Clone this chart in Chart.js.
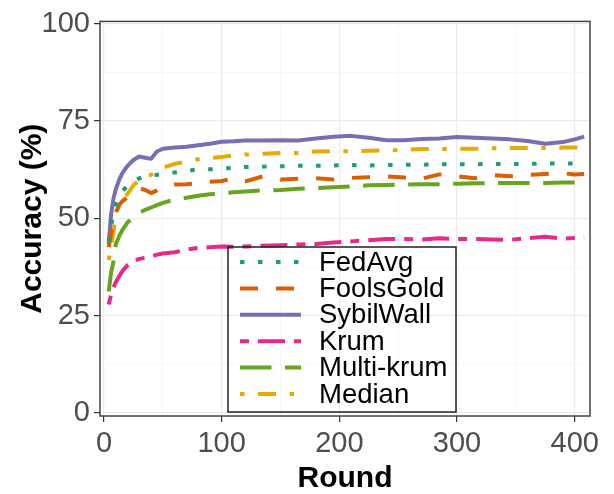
<!DOCTYPE html>
<html>
<head>
<meta charset="utf-8">
<script src="https://cdn.jsdelivr.net/npm/chart.js@4"></script>
<style>
  body { margin: 0; background: #fff; }
  canvas { display: block; }
</style>
</head>
<body>
<canvas id="chart" width="614" height="494"></canvas>
<script>
const rounds = [4, 6, 8, 10, 13, 16, 20, 25, 30, 35, 40, 45, 50, 60, 70, 80, 90, 100, 110, 120,
  135, 150, 165, 180, 195, 210, 225, 240, 255, 270, 285, 300, 315, 330, 345, 360, 375, 390, 400, 408];

const fedAvg = [44, 48, 51.5, 53.6, 55.8, 57.2, 58.3, 59.5, 60.3, 60.7, 61, 61.2, 61.3, 61.8, 62.2, 62.6, 62.6, 62.8, 63, 63.2,
  63.3, 63.4, 63.5, 63.5, 63.6, 63.7, 63.6, 63.7, 63.8, 63.8, 63.9, 63.9, 63.9, 64, 64, 64, 64.1, 64.1, 64.1, 64.2];
const foolsGold = [42.6, 46, 49.5, 51.5, 53.5, 54.5, 55.5, 57, 57.8, 57.3, 56.5, 57.2, 58.2, 58.7, 58.8, 59, 59.4, 59.6, 60.3, 59.5,
  60.8, 60, 60.2, 60.3, 60, 60.4, 60.6, 60.8, 60.5, 60.2, 61.3, 60.8, 60.3, 61.1, 60.8, 61.2, 61.4, 61.6, 61.3, 61.4];
const sybilWall = [43.5, 51, 55, 57.5, 60, 61.8, 63.5, 65, 65.9, 65.6, 65.3, 67.2, 67.9, 68.2, 68.4, 68.8, 69.2, 69.7, 69.8, 70,
  70, 70.1, 70, 70.5, 71, 71.2, 70.7, 70.1, 70.1, 70.4, 70.5, 70.9, 70.7, 70.5, 70.3, 69.9, 69.2, 69.6, 70.3, 71];
const krum = [27.9, 30.4, 32.2, 33.6, 35.2, 36.6, 38, 39.1, 39.6, 39.9, 40.2, 40.7, 41, 41.3, 42, 42.4, 42.6, 42.8, 42.7, 42.8,
  43, 43.1, 43.3, 43.4, 43.8, 44.1, 44.4, 44.7, 44.7, 44.6, 44.9, 44.7, 44.7, 44.6, 44.5, 44.9, 45.3, 44.8, 45, 45.1];
const multiKrum = [31.2, 36, 38.8, 43.4, 45.5, 47.2, 49, 50.2, 51.4, 52.2, 52.8, 53.4, 54, 54.8, 55.3, 55.8, 56.2, 56.5, 56.7, 56.9,
  57.2, 57.3, 57.6, 57.8, 58, 58.2, 58.5, 58.6, 58.7, 58.8, 58.8, 58.9, 59, 59.1, 59.1, 59.1, 59.1, 59.2, 59.2, 59.2];
const median = [39.3, 43, 46.4, 51, 53.5, 55, 56.3, 58.5, 59.8, 60.6, 61.2, 62, 63, 64, 64.6, 65.2, 65.5, 65.8, 66.2, 66.4,
  66.6, 66.8, 66.8, 67.2, 67.3, 67.2, 67.4, 67.5, 67.6, 67.8, 67.8, 67.9, 67.9, 68, 68.1, 68.1, 68.1, 68.2, 68.2, 68.3];

const seriesNames = ['FedAvg', 'FoolsGold', 'SybilWall', 'Krum', 'Multi-krum', 'Median'];
const seriesValues = [fedAvg, foolsGold, sybilWall, krum, multiKrum, median];
const colors = ['#1B9E77', '#D95F02', '#7570B3', '#E7298A', '#66A61E', '#E6AB02'];
const dashes = [[4.5, 13.5], [18, 18], [], [9, 9, 27, 9], [31.5, 13.5], [4.5, 13.5, 18, 13.5]];

const xTicks = [0, 50, 100, 150, 200, 250, 300, 350, 400];
const yTicks = [0, 12.5, 25, 37.5, 50, 62.5, 75, 87.5, 100];

const FONT = "'Liberation Sans', Arial, sans-serif";

const datasets = seriesNames.map((name, i) => ({
  label: name,
  data: rounds.map((r, j) => ({ x: r, y: seriesValues[i][j] })),
  borderColor: colors[i],
  backgroundColor: colors[i],
  borderWidth: 4,
  borderDash: dashes[i],
  borderCapStyle: 'butt',
  borderJoinStyle: 'round',
  pointRadius: 0,
  tension: 0,
  fill: false
}));

// panel border drawn over the data, like ggplot's theme_bw
const panelBorder = {
  id: 'panelBorder',
  afterDatasetsDraw(chart) {
    const { ctx, chartArea: a } = chart;
    ctx.save();
    ctx.strokeStyle = '#444';
    ctx.lineWidth = 1.5;
    ctx.strokeRect(a.left, a.top, a.right - a.left, a.bottom - a.top);
    ctx.restore();
  }
};

// boxed legend inside the panel
const boxLegend = {
  id: 'boxLegend',
  afterDraw(chart) {
    const { ctx } = chart;
    const box = { left: 228, top: 247, right: 456, bottom: 412 };
    ctx.save();
    ctx.strokeStyle = '#222';
    ctx.lineWidth = 1.5;
    ctx.strokeRect(box.left, box.top, box.right - box.left, box.bottom - box.top);
    ctx.font = '27.5px ' + FONT;
    ctx.textBaseline = 'middle';
    ctx.fillStyle = '#000';
    chart.data.datasets.forEach((ds, i) => {
      const y = 262 + i * 26.4;
      ctx.beginPath();
      ctx.setLineDash(ds.borderDash);
      ctx.lineCap = 'butt';
      ctx.strokeStyle = ds.borderColor;
      ctx.lineWidth = ds.borderWidth;
      ctx.moveTo(240, y);
      ctx.lineTo(301, y);
      ctx.stroke();
      ctx.setLineDash([]);
      ctx.fillText(ds.label, 319, y + 1);
    });
    ctx.restore();
  }
};

const gridColor = (major) => (ctx) => (ctx.tick && major(ctx.tick.value) ? '#EBEBEB' : '#F4F4F4');
const gridWidth = (major) => (ctx) => (ctx.tick && major(ctx.tick.value) ? 1.2 : 0.7);
const tickColor = (major) => (ctx) => (ctx.tick && major(ctx.tick.value) ? '#333' : 'rgba(0,0,0,0)');
const xMajor = (v) => v % 100 === 0;
const yMajor = (v) => v % 25 === 0;

new Chart(document.getElementById('chart'), {
  type: 'line',
  data: { datasets },
  options: {
    responsive: false,
    animation: false,
    layout: { padding: { top: 16, right: 24, left: 0, bottom: 0 } },
    plugins: { legend: { display: false }, tooltip: { enabled: false } },
    scales: {
      x: {
        type: 'linear',
        min: -3.4,
        max: 413,
        afterBuildTicks: (s) => { s.ticks = xTicks.map((v) => ({ value: v })); },
        afterFit: (s) => { s.height = 78; },
        ticks: {
          autoSkip: false,
          maxRotation: 0,
          padding: 5,
          color: '#4D4D4D',
          font: { family: FONT, size: 29 },
          callback: (v) => (xMajor(v) ? String(v) : '')
        },
        grid: { color: gridColor(xMajor), lineWidth: gridWidth(xMajor), tickColor: tickColor(xMajor), tickLength: 6, tickWidth: 1.2 },
        border: { display: false },
        title: { display: true, text: 'Round', color: '#000', font: { family: FONT, size: 30, weight: 'bold', lineHeight: 1 }, padding: { top: 0, bottom: 0 } }
      },
      y: {
        min: -0.75,
        max: 100.6,
        afterBuildTicks: (s) => { s.ticks = yTicks.map((v) => ({ value: v })); },
        afterFit: (s) => { s.width = 100; },
        ticks: {
          autoSkip: false,
          padding: 4,
          color: '#4D4D4D',
          font: { family: FONT, size: 29 },
          callback: (v) => (yMajor(v) ? String(v) : '')
        },
        grid: { color: gridColor(yMajor), lineWidth: gridWidth(yMajor), tickColor: tickColor(yMajor), tickLength: 6, tickWidth: 1.2 },
        border: { display: false },
        title: { display: true, text: 'Accuracy (%)', color: '#000', font: { family: FONT, size: 30, weight: 'bold', lineHeight: 1 }, padding: { top: 18, bottom: 0 } }
      }
    }
  },
  plugins: [panelBorder, boxLegend]
});
</script>
</body>
</html>
